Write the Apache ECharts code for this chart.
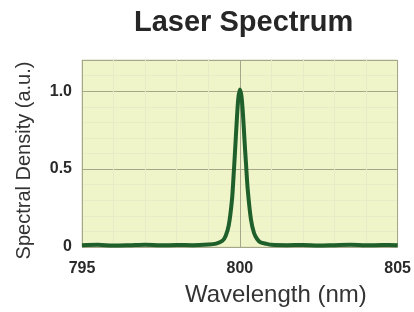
<!DOCTYPE html>
<html><head><meta charset="utf-8">
<script src="https://cdn.jsdelivr.net/npm/echarts@6/dist/echarts.min.js"></script>
<style>html,body{margin:0;padding:0;background:#fff}#c{width:414px;height:312px}</style>
</head><body><div id="c"></div>
<script>
var chartTitle = "Laser Spectrum";
var xAxisTitle = "Wavelength (nm)";
var yAxisTitle = "Spectral Density (a.u.)";
var xTicks = [795, 800, 805];
var yTicks = [0, 0.5, 1.0];
var wavelengths = [795.0,795.5,796.0,796.5,797.0,797.5,798.0,798.5,799.0,799.25,799.45,799.55,799.65,799.75,799.8,799.85,799.9,799.95,800.0,800.05,800.1,800.15,800.2,800.25,800.35,800.45,800.55,800.65,800.85,801.0,801.5,802.0,802.5,803.0,803.5,804.0,804.5,805.0];
var densities   = [0.012,0.014,0.010,0.012,0.015,0.011,0.013,0.012,0.016,0.022,0.04,0.07,0.14,0.30,0.45,0.62,0.80,0.95,1.01,0.97,0.85,0.68,0.52,0.37,0.18,0.09,0.05,0.03,0.02,0.014,0.012,0.013,0.010,0.012,0.014,0.011,0.013,0.012];

var seriesData = wavelengths.map(function(w,i){return [w, densities[i]];});
var chart = echarts.init(document.getElementById('c'), null, {renderer:'canvas'});
chart.setOption({
  animation:false,
  backgroundColor:'#ffffff',
  title:{text:chartTitle,left:129,top:3,
    textStyle:{fontFamily:'Liberation Sans, Arial',fontSize:29,fontWeight:'bold',color:'#262626'}},
  grid:{left:82,right:14,top:60,bottom:65,show:true,backgroundColor:'#eff5c9',borderColor:'#d6dab8',borderWidth:1},
  xAxis:{type:'value',min:xTicks[0],max:xTicks[xTicks.length-1],interval:5,
    name:xAxisTitle,nameLocation:'middle',nameGap:36,
    nameTextStyle:{fontFamily:'Liberation Sans, Arial',fontSize:24,color:'#333',padding:[0,0,0,72]},
    axisLine:{show:false},axisTick:{show:false},
    axisLabel:{margin:14,fontFamily:'Liberation Sans, Arial',fontSize:16,fontWeight:'bold',color:'#2a2a2a'},
    splitLine:{show:true,lineStyle:{color:'#a5a68a',width:1}},
    minorTick:{show:false,splitNumber:5},
    minorSplitLine:{show:true,lineStyle:{color:'#e6edc6',width:1}}
  },
  yAxis:{type:'value',min:0,max:1.2,interval:0.5,
    name:yAxisTitle,nameLocation:'middle',nameGap:48,
    nameTextStyle:{fontFamily:'Liberation Sans, Arial',fontSize:20,color:'#333',padding:[0,14,0,0]},
    axisLine:{show:false},axisTick:{show:false},
    axisLabel:{margin:10,showMaxLabel:false,fontFamily:'Liberation Sans, Arial',fontSize:16,fontWeight:'bold',color:'#2a2a2a',
      formatter:function(v){return v===0?'0':v.toFixed(1);}},
    splitLine:{show:true,lineStyle:{color:'#a5a68a',width:1}},
    minorTick:{show:false,splitNumber:5},
    minorSplitLine:{show:true,lineStyle:{color:'#e6edc6',width:1}}
  },
  series:[{type:'line',data:seriesData,showSymbol:false,smooth:0.3,
    lineStyle:{color:'#1f5f2b',width:4}}]
});
</script></body></html>
